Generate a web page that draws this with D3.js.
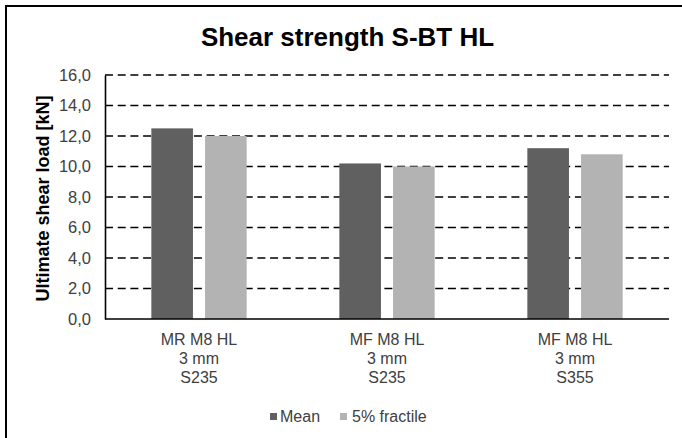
<!DOCTYPE html>
<html>
<head>
<meta charset="utf-8">
<script src="https://cdn.jsdelivr.net/npm/d3@7"></script>
<style>
  html, body { margin: 0; padding: 0; background: #fff; }
  svg { display: block; font-family: "Liberation Sans", Arial, sans-serif; }
</style>
</head>
<body>
<svg id="chart" width="682" height="438"></svg>
<script>
const title = "Shear strength S-BT HL";
const yTitle = "Ultimate shear load [kN]";
const categories = [
  ["MR M8 HL", "3 mm", "S235"],
  ["MF M8 HL", "3 mm", "S235"],
  ["MF M8 HL", "3 mm", "S355"]
];
const seriesNames = ["Mean", "5% fractile"];
const meanValues = [12.5, 10.2, 11.2];
const fractileValues = [12.0, 10.0, 10.8];
const yTicks = [0, 2, 4, 6, 8, 10, 12, 14, 16];
const colors = ["#606060", "#b3b3b3"];

const svg = d3.select("#chart");
const W = 682, H = 438;
const plot = { left: 105, right: 669, top: 75, bottom: 319 };

// outer border
svg.append("rect").attr("x", 6).attr("y", 6).attr("width", W + 10).attr("height", H + 10)
  .attr("fill", "none").attr("stroke", "#000").attr("stroke-width", 2);

const p = 0.493;
const x0 = d3.scaleBand().domain(d3.range(categories.length))
  .range([plot.left, plot.right]).paddingInner(p).paddingOuter(p / 2);
const x1 = d3.scaleBand().domain(d3.range(seriesNames.length))
  .range([0, x0.bandwidth()]).paddingInner(0.225).paddingOuter(0);
const y = d3.scaleLinear().domain([0, 16]).range([plot.bottom, plot.top]);

// gridlines
svg.append("g").selectAll("line").data(yTicks.filter(d => d > 0)).join("line")
  .attr("x1", plot.left).attr("x2", plot.right)
  .attr("y1", d => y(d)).attr("y2", d => y(d))
  .attr("stroke", "#000").attr("stroke-width", 1.6)
  .attr("stroke-dasharray", "8,4.7");

// bars
const seriesData = [meanValues, fractileValues];
const g = svg.append("g");
seriesData.forEach((vals, si) => {
  g.selectAll(".s" + si).data(vals).join("rect")
    .attr("x", (d, i) => x0(i) + x1(si))
    .attr("width", x1.bandwidth())
    .attr("y", d => y(d))
    .attr("height", d => y(0) - y(d))
    .attr("fill", colors[si]);
});

// y axis
const yAxis = d3.axisLeft(y).tickValues(yTicks).tickSize(0).tickPadding(14)
  .tickFormat(d => d3.format(".1f")(d).replace(".", ","));
const ya = svg.append("g").attr("transform", `translate(${plot.left},0)`).call(yAxis);
ya.select(".domain").attr("stroke", "#000").attr("stroke-width", 1.6);
ya.selectAll("text").attr("font-size", 16.5).attr("fill", "#404040")
  .attr("font-family", "Liberation Sans, Arial, sans-serif");

// x axis line
svg.append("line").attr("x1", plot.left).attr("x2", plot.right)
  .attr("y1", plot.bottom).attr("y2", plot.bottom)
  .attr("stroke", "#000").attr("stroke-width", 1.6);

// x labels
categories.forEach((lines, i) => {
  const cx = x0(i) + x0.bandwidth() / 2;
  const t = svg.append("text").attr("text-anchor", "middle")
    .attr("font-size", 16).attr("fill", "#404040");
  lines.forEach((ln, j) => {
    t.append("tspan").attr("x", cx).attr("y", 345 + j * 19).text(ln);
  });
});

// title
svg.append("text").attr("x", 347.5).attr("y", 46).attr("text-anchor", "middle")
  .attr("font-size", 26).attr("font-weight", "bold").attr("fill", "#000").text(title);

// y title
svg.append("text").attr("transform", `translate(49,198.5) rotate(-90)`)
  .attr("text-anchor", "middle").attr("font-size", 18).attr("font-weight", "bold")
  .attr("fill", "#000").text(yTitle);

// legend
const legendX = [270, 340];
seriesNames.forEach((name, i) => {
  svg.append("rect").attr("x", legendX[i]).attr("y", 413).attr("width", 7).attr("height", 7)
    .attr("fill", colors[i]);
  svg.append("text").attr("x", legendX[i] + (i === 0 ? 10 : 12)).attr("y", 422)
    .attr("font-size", 16).attr("fill", "#404040").text(name);
});
</script>
</body>
</html>
